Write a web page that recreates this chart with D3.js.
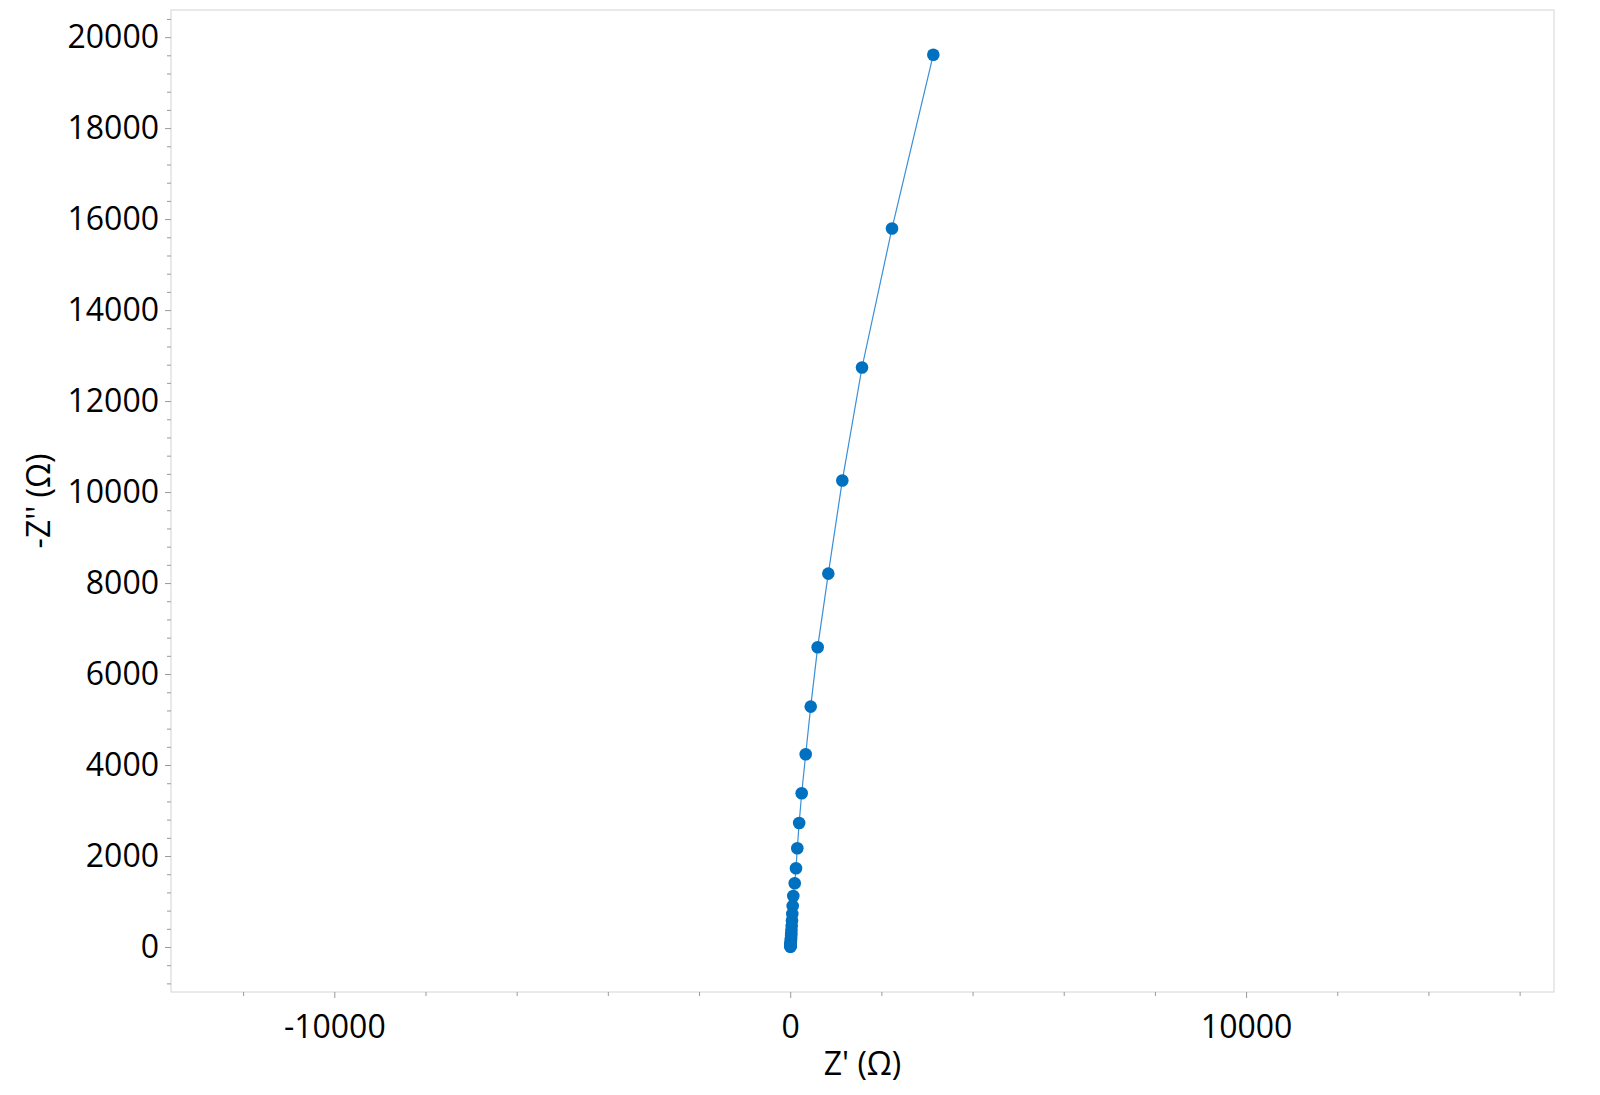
<!DOCTYPE html>
<html>
<head>
<meta charset="utf-8">
<script src="https://cdn.jsdelivr.net/npm/d3@7"></script>
<style>
  html, body { margin: 0; padding: 0; background: #fff; }
  text { font-family: "Open Sans", "Noto Sans", sans-serif; fill: #000; }
</style>
</head>
<body>
<div id="chart"></div>
<script>
// Nyquist data, Z' and -Z'' in ohms
const zReal = [3139, 2233, 1575, 1143, 836, 603, 450, 340, 252, 197, 156, 127, 99, 68,
  55, 46, 39, 33, 28, 24, 21, 18, 16, 14, 12, 11, 10, 9, 8, 7, 6, 5];
const zImag = [19613, 15794, 12738, 10253, 8208, 6590, 5284, 4237, 3380, 2727, 2170, 1730, 1401, 1121,
  900, 725, 585, 470, 378, 303, 243, 195, 156, 125, 99, 78, 61, 47, 35, 24, 14, 6];
const xTickValues = [-10000, 0, 10000];
const yTickValues = [0, 2000, 4000, 6000, 8000, 10000, 12000, 14000, 16000, 18000, 20000];
const xTitle = "Z' (\u03A9)";
const yTitle = "-Z'' (\u03A9)";

(function(){
  const width = 1600, height = 1095;
  const plot = { left: 171, right: 1554, top: 10, bottom: 992 };

  const x = d3.scaleLinear().domain([-13582, 16754]).range([plot.left, plot.right]);
  const y = d3.scaleLinear().domain([-989, 20596]).range([plot.bottom, plot.top]);

  const svg = d3.select("#chart").append("svg")
    .attr("width", width)
    .attr("height", height);

  // plot frame
  svg.append("rect")
    .attr("x", plot.left).attr("y", plot.top)
    .attr("width", plot.right - plot.left).attr("height", plot.bottom - plot.top)
    .attr("fill", "none").attr("stroke", "#d4d4d4").attr("stroke-width", 1);

  // minor ticks
  const xMinor = d3.range(-12000, 16001, 2000).filter(v => !xTickValues.includes(v));
  const yMinor = d3.range(-800, 20401, 400).filter(v => !yTickValues.includes(v));

  // plain hyphen for negatives, like the original
  const fmt = d => String(d);

  const xAxisMinor = d3.axisBottom(x).tickValues(xMinor).tickSize(4).tickFormat("");
  const yAxisMinor = d3.axisLeft(y).tickValues(yMinor).tickSize(4).tickFormat("");
  const xAxis = d3.axisBottom(x).tickValues(xTickValues).tickSize(6).tickPadding(17).tickFormat(fmt);
  const yAxis = d3.axisLeft(y).tickValues(yTickValues).tickSize(6).tickPadding(6).tickFormat(fmt);

  function style(g) {
    g.select(".domain").remove();
    g.selectAll(".tick line").attr("stroke", "#9a9a9a");
    g.selectAll(".tick text").style("font-size", "32px").attr("fill", "#000");
  }

  svg.append("g").attr("transform", `translate(0,${plot.bottom})`).call(xAxisMinor).call(style);
  svg.append("g").attr("transform", `translate(${plot.left},0)`).call(yAxisMinor).call(style);
  svg.append("g").attr("transform", `translate(0,${plot.bottom})`).call(xAxis).call(style);
  svg.append("g").attr("transform", `translate(${plot.left},0)`).call(yAxis).call(style);

  // axis titles
  svg.append("text")
    .attr("x", (plot.left + plot.right) / 2)
    .attr("y", 1075)
    .attr("text-anchor", "middle")
    .style("font-size", "32px")
    .text(xTitle);

  svg.append("text")
    .attr("transform", `translate(50,${(plot.top + plot.bottom) / 2}) rotate(-90)`)
    .attr("text-anchor", "middle")
    .style("font-size", "32px")
    .text(yTitle);

  const pts = zReal.map((d, i) => ({ re: d, im: zImag[i] }));

  const line = d3.line().x(d => x(d.re)).y(d => y(d.im));
  svg.append("path")
    .datum(pts)
    .attr("d", line)
    .attr("fill", "none")
    .attr("stroke", "#3a8fd6")
    .attr("stroke-width", 1.2);

  svg.selectAll(".pt")
    .data(pts)
    .enter().append("circle")
    .attr("class", "pt")
    .attr("cx", d => x(d.re))
    .attr("cy", d => y(d.im))
    .attr("r", 6.3)
    .attr("fill", "#0070c0");
})();
</script>
</body>
</html>
